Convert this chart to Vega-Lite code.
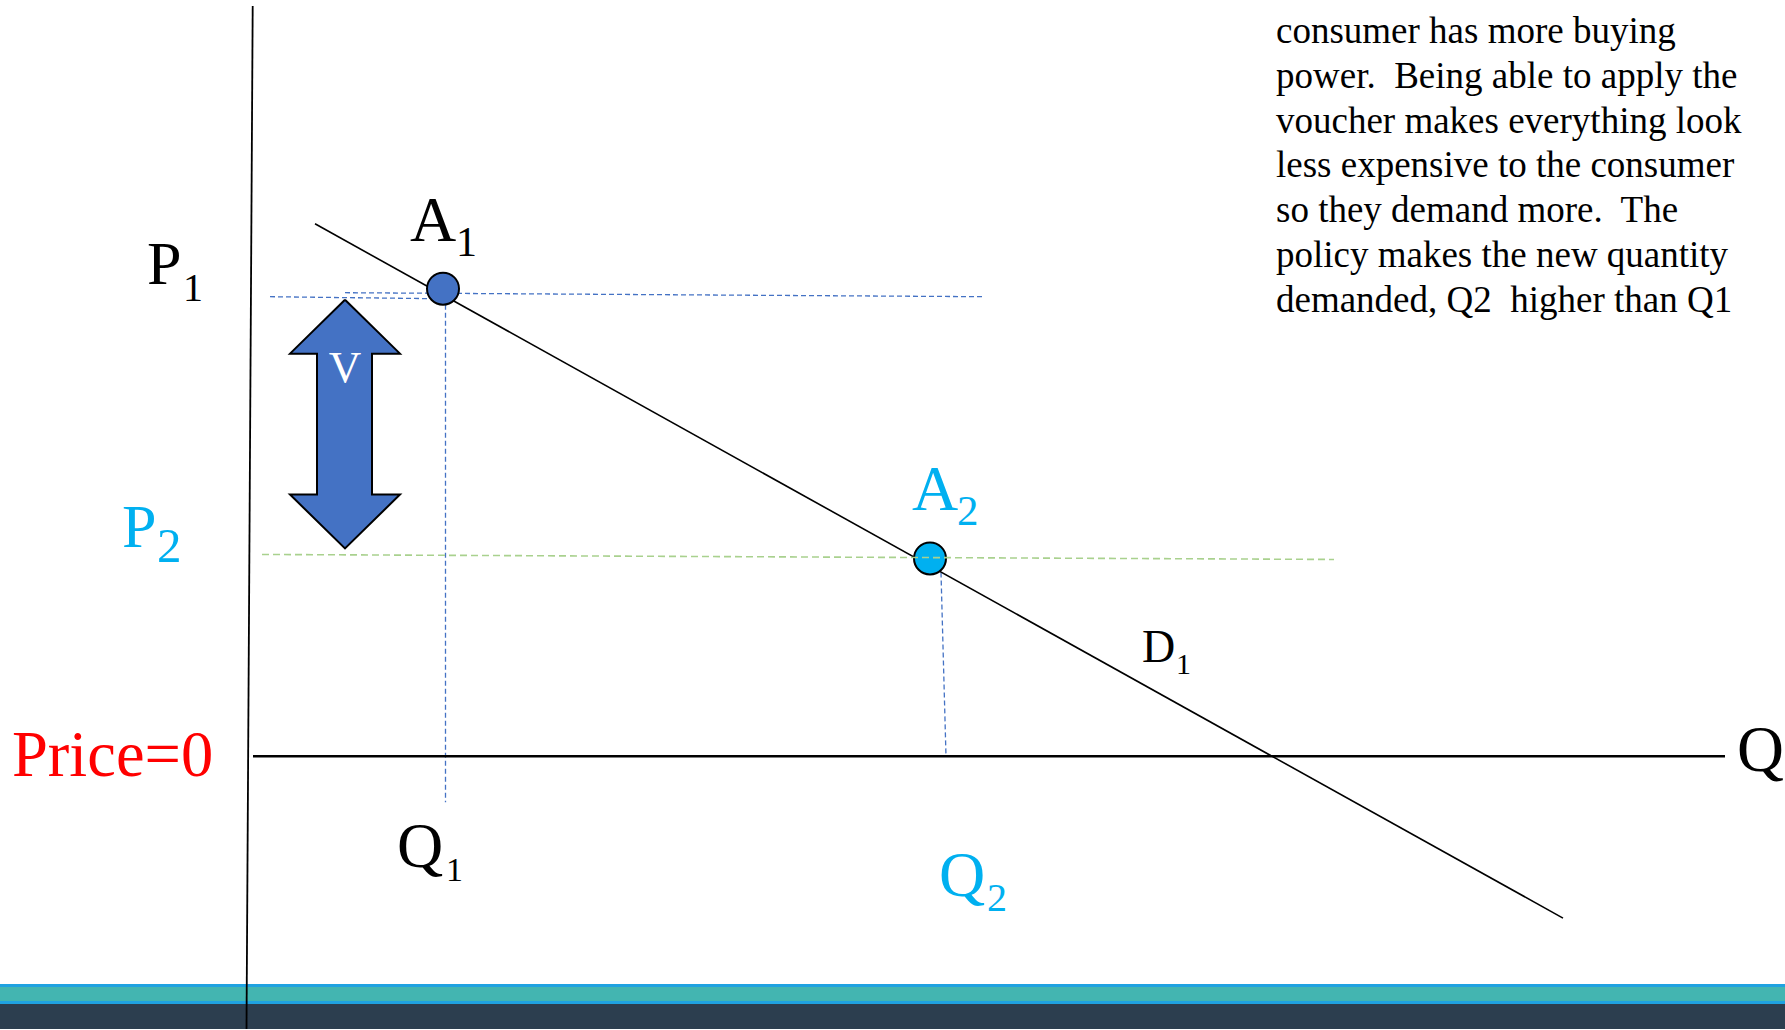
{
  "$schema": "https://vega.github.io/schema/vega-lite/v6.json",
  "width": 1785,
  "height": 1030,
  "autosize": {"type": "fit", "contains": "padding"},
  "padding": 0,
  "background": "white",
  "view": {"stroke": null},
  "config": {"text": {"font": "Liberation Serif"}},
  "datasets": {
    "bands": [
      {"band": "edge", "y": -228, "y2": -248},
      {"band": "teal", "y": -231, "y2": -245},
      {"band": "navy", "y": -248, "y2": -273}
    ],
    "segments": [
      {"part": "P1 guide a", "style": "blue", "x": 20, "y": 460, "x2": 187, "y2": 458},
      {"part": "P1 guide b", "style": "blue", "x": 95, "y": 464, "x2": 735, "y2": 460},
      {"part": "Q1 guide", "style": "blue", "x": 195.5, "y": 452, "x2": 195.5, "y2": -46},
      {"part": "Q2 guide", "style": "blue", "x": 691, "y": 184, "x2": 696, "y2": 0},
      {"part": "P2 guide", "style": "green", "x": 12, "y": 202, "x2": 1084, "y2": 197},
      {"part": "demand D1", "style": "demand", "x": 65, "y": 533, "x2": 1313, "y2": -162},
      {"part": "price axis", "style": "yaxis", "x": 2.7, "y": 751, "x2": -3.5, "y2": -273},
      {"part": "quantity axis", "style": "xaxis", "x": 3, "y": 0, "x2": 1475, "y2": 0}
    ],
    "arrow": [
      {"order": 0, "x": 95, "y": 457},
      {"order": 1, "x": 150, "y": 403},
      {"order": 2, "x": 122, "y": 403},
      {"order": 3, "x": 122, "y": 262},
      {"order": 4, "x": 150, "y": 262},
      {"order": 5, "x": 95, "y": 208},
      {"order": 6, "x": 40, "y": 262},
      {"order": 7, "x": 67, "y": 262},
      {"order": 8, "x": 67, "y": 403},
      {"order": 9, "x": 40, "y": 403},
      {"order": 10, "x": 95, "y": 457}
    ],
    "points": [
      {"label": "A1", "state": "initial", "x": 193, "y": 468},
      {"label": "A2", "state": "new", "x": 680, "y": 198}
    ],
    "labels": [
      {"label": "P1", "main": "P", "sub": "1", "state": "initial", "x": -103, "y": 473, "xs": -67, "ys": 456},
      {"label": "A1", "main": "A", "sub": "1", "state": "initial", "x": 160, "y": 516, "xs": 206, "ys": 501},
      {"label": "A2", "main": "A", "sub": "2", "state": "new", "x": 662, "y": 247, "xs": 707, "ys": 231},
      {"label": "D1", "main": "D", "sub": "1", "state": "initial", "x": 892, "y": 94, "xs": 926, "ys": 82},
      {"label": "P2", "main": "P", "sub": "2", "state": "new", "x": -128, "y": 209, "xs": -93, "ys": 194},
      {"label": "Q1", "main": "Q", "sub": "1", "state": "initial", "x": 147, "y": -111, "xs": 196, "ys": -125},
      {"label": "Q2", "main": "Q", "sub": "2", "state": "new", "x": 689, "y": -140, "xs": 737, "ys": -155}
    ],
    "notes": [
      {"x": 1026, "y": 714, "lines": [
        "consumer has more buying",
        "power.\u00a0 Being able to apply the",
        "voucher makes everything look",
        "less expensive to the consumer",
        "so they demand more.\u00a0 The",
        "policy makes the new quantity",
        "demanded, Q2\u00a0 higher than Q1"
      ]}
    ]
  },
  "layer": [
    {
      "data": {"name": "bands"},
      "mark": {"type": "rect"},
      "encoding": {
        "y": {"field": "y", "type": "quantitative", "scale": {"domain": [-273, 757], "nice": false, "zero": false}, "axis": null},
        "y2": {"field": "y2"},
        "color": {"condition": [
          {"test": "datum.band === 'edge'", "value": "#1FA2E1"},
          {"test": "datum.band === 'teal'", "value": "#43B5B1"}
        ], "value": "#2C3E4F"}
      }
    },
    {
      "data": {"name": "segments"},
      "transform": [{"filter": "datum.style === 'blue'"}],
      "mark": {"type": "rule", "color": "#4472C4", "strokeWidth": 1.3, "strokeDash": [5, 3]},
      "encoding": {
        "x": {"field": "x", "type": "quantitative", "scale": {"domain": [-250, 1535], "nice": false, "zero": false}, "axis": null},
        "y": {"field": "y", "type": "quantitative", "scale": {"domain": [-273, 757], "nice": false, "zero": false}, "axis": null},
        "x2": {"field": "x2"},
        "y2": {"field": "y2"}
      }
    },
    {
      "data": {"name": "segments"},
      "transform": [{"filter": "datum.style === 'demand'"}],
      "mark": {"type": "rule", "color": "black", "strokeWidth": 1.6},
      "encoding": {
        "x": {"field": "x", "type": "quantitative", "scale": {"domain": [-250, 1535], "nice": false, "zero": false}, "axis": null},
        "y": {"field": "y", "type": "quantitative", "scale": {"domain": [-273, 757], "nice": false, "zero": false}, "axis": null},
        "x2": {"field": "x2"},
        "y2": {"field": "y2"}
      }
    },
    {
      "data": {"name": "segments"},
      "transform": [{"filter": "datum.style === 'xaxis'"}],
      "mark": {"type": "rule", "color": "black", "strokeWidth": 2.6},
      "encoding": {
        "x": {"field": "x", "type": "quantitative", "scale": {"domain": [-250, 1535], "nice": false, "zero": false}, "axis": null},
        "y": {"field": "y", "type": "quantitative", "scale": {"domain": [-273, 757], "nice": false, "zero": false}, "axis": null},
        "x2": {"field": "x2"},
        "y2": {"field": "y2"}
      }
    },
    {
      "data": {"name": "segments"},
      "transform": [{"filter": "datum.style === 'yaxis'"}],
      "mark": {"type": "rule", "color": "black", "strokeWidth": 1.8},
      "encoding": {
        "x": {"field": "x", "type": "quantitative", "scale": {"domain": [-250, 1535], "nice": false, "zero": false}, "axis": null},
        "y": {"field": "y", "type": "quantitative", "scale": {"domain": [-273, 757], "nice": false, "zero": false}, "axis": null},
        "x2": {"field": "x2"},
        "y2": {"field": "y2"}
      }
    },
    {
      "data": {"name": "arrow"},
      "mark": {"type": "line", "fill": "#4472C4", "stroke": "black", "strokeWidth": 2, "strokeJoin": "miter", "interpolate": "linear"},
      "encoding": {
        "x": {"field": "x", "type": "quantitative", "scale": {"domain": [-250, 1535], "nice": false, "zero": false}, "axis": null},
        "y": {"field": "y", "type": "quantitative", "scale": {"domain": [-273, 757], "nice": false, "zero": false}, "axis": null},
        "order": {"field": "order", "type": "quantitative"}
      }
    },
    {
      "data": {"name": "points"},
      "mark": {"type": "point", "shape": "circle", "filled": true, "size": 1024, "stroke": "black", "strokeWidth": 2, "opacity": 1},
      "encoding": {
        "x": {"field": "x", "type": "quantitative", "scale": {"domain": [-250, 1535], "nice": false, "zero": false}, "axis": null},
        "y": {"field": "y", "type": "quantitative", "scale": {"domain": [-273, 757], "nice": false, "zero": false}, "axis": null},
        "fill": {"condition": {"test": "datum.state === 'new'", "value": "#00B0F0"}, "value": "#4472C4"}
      }
    },
    {
      "data": {"name": "segments"},
      "transform": [{"filter": "datum.style === 'green'"}],
      "mark": {"type": "rule", "color": "#A9D18E", "strokeWidth": 1.6, "strokeDash": [7, 4]},
      "encoding": {
        "x": {"field": "x", "type": "quantitative", "scale": {"domain": [-250, 1535], "nice": false, "zero": false}, "axis": null},
        "y": {"field": "y", "type": "quantitative", "scale": {"domain": [-273, 757], "nice": false, "zero": false}, "axis": null},
        "x2": {"field": "x2"},
        "y2": {"field": "y2"}
      }
    },
    {
      "data": {"values": [{"text": "V", "x": 95, "y": 375}]},
      "mark": {"type": "text", "align": "center", "baseline": "alphabetic", "fontSize": 45, "color": "white"},
      "encoding": {
        "x": {"field": "x", "type": "quantitative", "scale": {"domain": [-250, 1535], "nice": false, "zero": false}, "axis": null},
        "y": {"field": "y", "type": "quantitative", "scale": {"domain": [-273, 757], "nice": false, "zero": false}, "axis": null},
        "text": {"field": "text"}
      }
    },
    {
      "data": {"name": "labels"},
      "mark": {"type": "text", "align": "left", "baseline": "alphabetic"},
      "encoding": {
        "x": {"field": "x", "type": "quantitative", "scale": {"domain": [-250, 1535], "nice": false, "zero": false}, "axis": null},
        "y": {"field": "y", "type": "quantitative", "scale": {"domain": [-273, 757], "nice": false, "zero": false}, "axis": null},
        "text": {"field": "main"},
        "color": {"condition": {"test": "datum.state === 'new'", "value": "#00B0F0"}, "value": "black"},
        "size": {"condition": [
          {"test": "datum.label === 'D1'", "value": 46},
          {"test": "datum.label === 'P1' || datum.label === 'P2'", "value": 62}
        ], "value": 64}
      }
    },
    {
      "data": {"name": "labels"},
      "mark": {"type": "text", "align": "left", "baseline": "alphabetic"},
      "encoding": {
        "x": {"field": "xs", "type": "quantitative", "scale": {"domain": [-250, 1535], "nice": false, "zero": false}, "axis": null},
        "y": {"field": "ys", "type": "quantitative", "scale": {"domain": [-273, 757], "nice": false, "zero": false}, "axis": null},
        "text": {"field": "sub"},
        "color": {"condition": {"test": "datum.state === 'new'", "value": "#00B0F0"}, "value": "black"},
        "size": {"condition": [
          {"test": "datum.label === 'P1'", "value": 40},
          {"test": "datum.label === 'P2'", "value": 49},
          {"test": "datum.label === 'A1'", "value": 42},
          {"test": "datum.label === 'A2'", "value": 43},
          {"test": "datum.label === 'D1'", "value": 30},
          {"test": "datum.label === 'Q1'", "value": 34}
        ], "value": 40}
      }
    },
    {
      "data": {"values": [{"text": "Q", "x": 1487, "y": -15}]},
      "mark": {"type": "text", "align": "left", "baseline": "alphabetic", "fontSize": 65, "color": "black"},
      "encoding": {
        "x": {"field": "x", "type": "quantitative", "scale": {"domain": [-250, 1535], "nice": false, "zero": false}, "axis": null},
        "y": {"field": "y", "type": "quantitative", "scale": {"domain": [-273, 757], "nice": false, "zero": false}, "axis": null},
        "text": {"field": "text"}
      }
    },
    {
      "data": {"values": [{"text": "Price=0", "x": -238, "y": -20}]},
      "mark": {"type": "text", "align": "left", "baseline": "alphabetic", "fontSize": 64.5, "color": "#FF0000"},
      "encoding": {
        "x": {"field": "x", "type": "quantitative", "scale": {"domain": [-250, 1535], "nice": false, "zero": false}, "axis": null},
        "y": {"field": "y", "type": "quantitative", "scale": {"domain": [-273, 757], "nice": false, "zero": false}, "axis": null},
        "text": {"field": "text"}
      }
    },
    {
      "data": {"name": "notes"},
      "mark": {"type": "text", "align": "left", "baseline": "alphabetic", "fontSize": 37, "lineHeight": 44.8, "color": "black"},
      "encoding": {
        "x": {"field": "x", "type": "quantitative", "scale": {"domain": [-250, 1535], "nice": false, "zero": false}, "axis": null},
        "y": {"field": "y", "type": "quantitative", "scale": {"domain": [-273, 757], "nice": false, "zero": false}, "axis": null},
        "text": {"field": "lines"}
      }
    }
  ]
}
